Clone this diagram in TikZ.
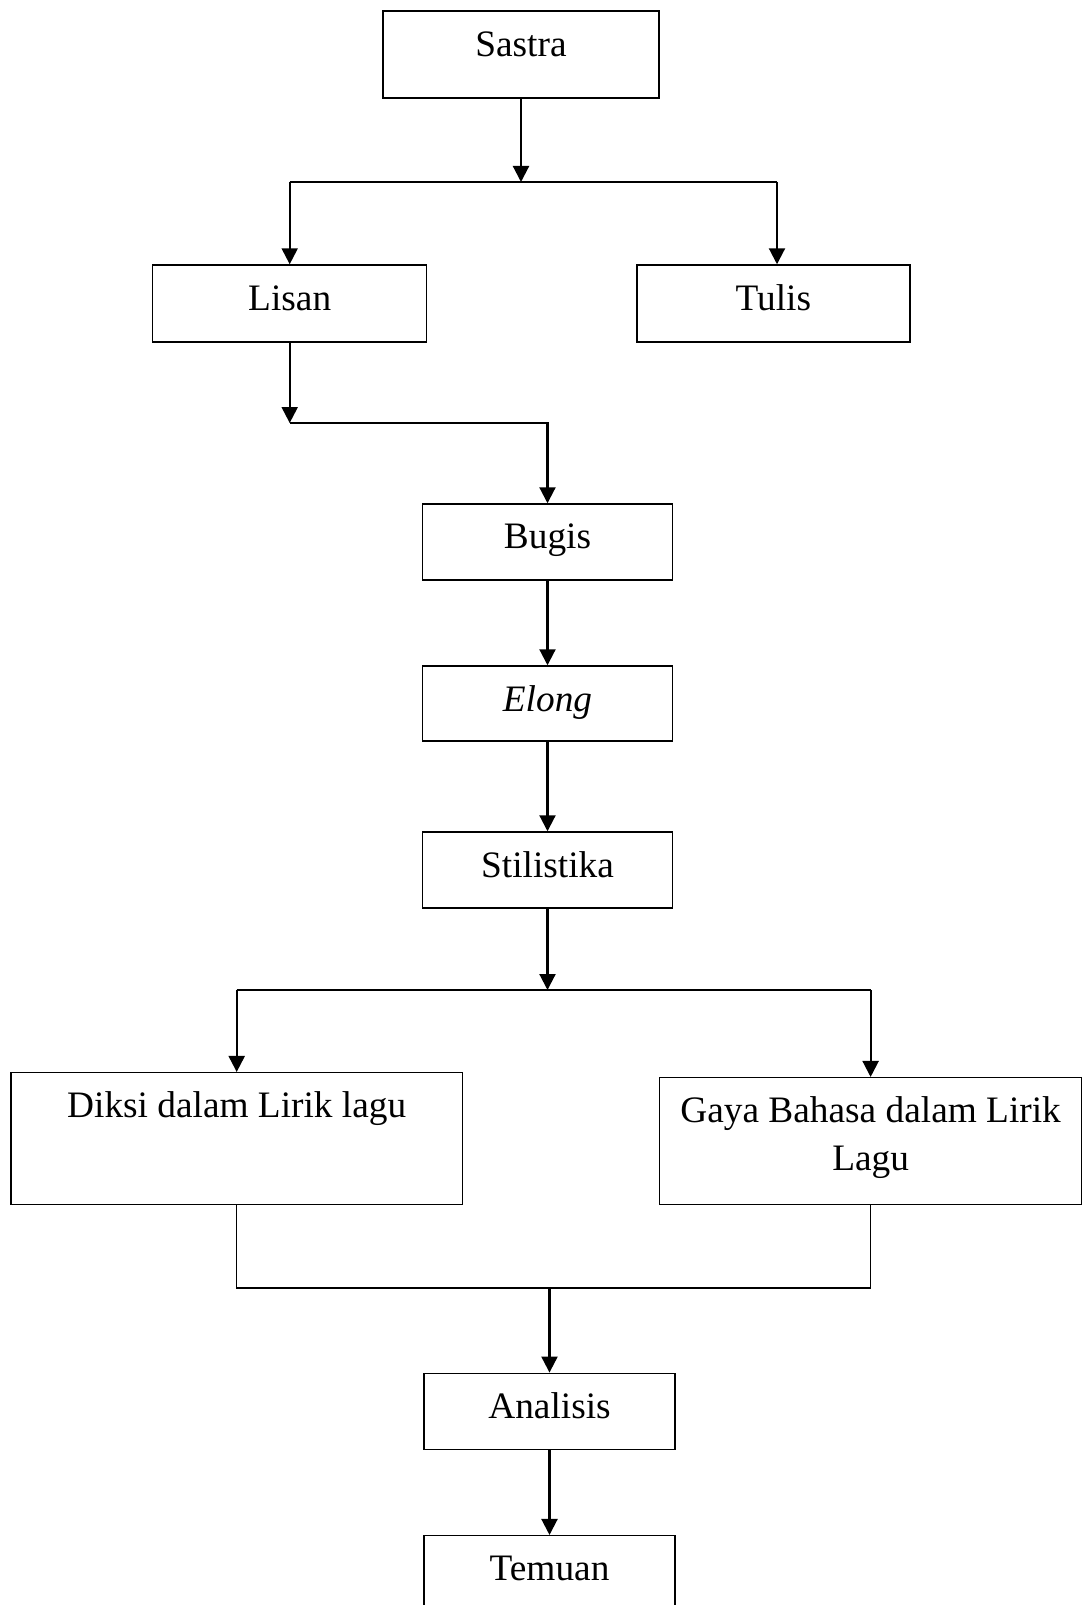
\documentclass[tikz,border=0pt]{standalone}
\usepackage{fontspec}
\setmainfont{Liberation Serif}
\usetikzlibrary{arrows.meta}
\begin{document}
\begin{tikzpicture}[x=0.75pt,y=-0.75pt,
  box/.style={draw, line width=1.1pt, rectangle, inner sep=0pt},
  lbl/.style={anchor=base, inner sep=0pt, font=\fontsize{28}{36}\selectfont},
  arr/.style={line width=1.6pt, -{Triangle[length=12pt,width=12pt]}},
  ln/.style={line width=1.6pt},
  thinln/.style={line width=0.9pt}]
\useasboundingbox (0,0) rectangle (1085,1605);
\clip (0,0) rectangle (1085,1605);
% boxes
\node[box, minimum width=207pt, minimum height=65.25pt] (sastra) at (521,54.5) {};
\node[box, minimum width=205.5pt, minimum height=57.75pt] (lisan) at (289.7,303.5) {};
\node[box, minimum width=204.75pt, minimum height=57.75pt] (tulis) at (773.3,303.5) {};
\node[box, minimum width=187.5pt, minimum height=57pt] (bugis) at (547.5,542) {};
\node[box, minimum width=187.5pt, minimum height=56.25pt] (elong) at (547.5,703.5) {};
\node[box, minimum width=187.5pt, minimum height=57pt] (stil) at (547.5,870) {};
\node[box, minimum width=338.6pt, minimum height=98.85pt] (diksi) at (236.7,1138.6) {};
\node[box, minimum width=316.5pt, minimum height=95.1pt] (gaya) at (870.6,1141.1) {};
\node[box, minimum width=188.25pt, minimum height=57pt] (analisis) at (549.5,1411.3) {};
\node[box, minimum width=188.25pt, minimum height=57pt] (temuan) at (549.5,1573.7) {};
% labels
\node[lbl] (tsastra) at ([yshift=-34.5pt]sastra.north) {Sastra};
\node[lbl] (tlisan) at ([yshift=-34.5pt]lisan.north) {Lisan};
\node[lbl] (ttulis) at ([yshift=-34.5pt]tulis.north) {Tulis};
\node[lbl] (tbugis) at ([yshift=-34pt]bugis.north) {Bugis};
\node[lbl] (telong) at ([yshift=-34.5pt]elong.north) {\itshape Elong};
\node[lbl] (tstil) at ([yshift=-34.5pt]stil.north) {Stilistika};
\node[lbl] (tdiksi) at ([yshift=-34pt]diksi.north) {Diksi dalam Lirik lagu};
\node[lbl, align=center] (tgaya) at ([yshift=-70pt]gaya.north) {Gaya Bahasa dalam Lirik\\Lagu};
\node[lbl] (tanalisis) at ([yshift=-34.5pt]analisis.north) {Analisis};
\node[lbl] (ttemuan) at ([yshift=-34pt]temuan.north) {Temuan};
% connectors
\coordinate (j1) at (521,182);
\coordinate (j1r) at (777,182);
\draw[arr] (sastra.south) -- (j1);
\draw[ln] (lisan.north |- j1) -- (j1r);
\draw[arr] (lisan.north |- j1) -- (lisan.north);
\draw[arr] (j1r) -- (j1r |- tulis.north);
\coordinate (j2) at (289.7,423);
\draw[arr] (lisan.south) -- (j2);
\draw[arr] (j2) -| (bugis.north);
\draw[arr] (bugis.south) -- (elong.north);
\draw[arr] (elong.south) -- (stil.north);
\coordinate (j3) at (547.5,990);
\draw[arr] (stil.south) -- (j3);
\draw[ln] (diksi.north |- j3) -- (gaya.north |- j3);
\draw[arr] (diksi.north |- j3) -- (diksi.north);
\draw[arr] (gaya.north |- j3) -- (gaya.north);
\coordinate (j4) at (550,1288);
\draw[thinln] (diksi.south) -- (diksi.south |- j4) -- (gaya.south |- j4) -- (gaya.south);
\draw[arr] (analisis.north |- j4) -- (analisis.north);
\draw[arr] (analisis.south) -- (temuan.north);
\end{tikzpicture}
\end{document}
